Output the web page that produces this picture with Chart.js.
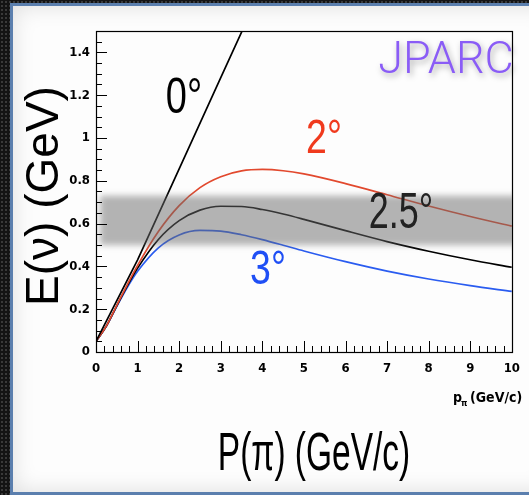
<!DOCTYPE html>
<html>
<head>
<meta charset="utf-8">
<script src="https://cdn.jsdelivr.net/npm/chart.js@4/dist/chart.umd.min.js"></script>
<style>
  html, body { margin: 0; padding: 0; }
  body {
    width: 529px; height: 495px; overflow: hidden; position: relative;
    background-color: #141414;
    background-image: radial-gradient(circle, #3a3a3a 0.9px, transparent 1.4px);
    background-size: 4px 4px;
  }
  #panel {
    position: absolute; left: 10px; top: 3px; width: 540px; height: 486px;
    border: 3px solid #5b7fae; border-right: none;
    background: #fdfdfd;
    box-shadow: inset 0 0 22px rgba(0,0,0,0.13);
  }
  #wrap { position: absolute; left: 0; top: 0; width: 529px; height: 495px; }
</style>
</head>
<body>
<div id="panel"></div>
<div id="wrap"><canvas id="chart" width="529" height="495"></canvas></div>
<script>
// Pion momentum (GeV/c) at which the neutrino energies are tabulated
const pionMomentum = [0, 0.25, 0.5, 0.75, 1, 1.5, 2, 2.5, 3, 3.5, 4, 4.5, 5, 6, 7, 8, 9, 10];
// Neutrino energy (GeV) for each off-axis angle
const energy2deg   = [0.05, 0.122, 0.218, 0.314, 0.405, 0.563, 0.684, 0.768, 0.819, 0.846, 0.853, 0.847, 0.832, 0.787, 0.735, 0.682, 0.633, 0.588];
const energy25deg  = [0.05, 0.121, 0.216, 0.308, 0.392, 0.526, 0.614, 0.663, 0.681, 0.680, 0.666, 0.645, 0.620, 0.567, 0.516, 0.471, 0.431, 0.396];
const energy3deg   = [0.05, 0.121, 0.213, 0.301, 0.377, 0.487, 0.547, 0.568, 0.565, 0.548, 0.525, 0.499, 0.472, 0.422, 0.378, 0.341, 0.310, 0.283];
// On-axis (0 degree) line
const momentum0deg = [0, 1, 2, 3, 3.6];
const energy0deg   = [0.05, 0.431, 0.856, 1.282, 1.537];
// Highlighted energy window (GeV)
const bandRange = [0.5, 0.73];
// Axis ranges and tick steps
const xRange = [0, 10];
const yRange = [0, 1.5];
const xTickStep = 1, xMinorStep = 0.2;
const yTickStep = 0.2, yMinorStep = 0.05;

const pts = (xs, ys) => xs.map((x, i) => ({ x: x, y: ys[i] }));

const curveStyle = { pointRadius: 0, borderWidth: 1.7, fill: false, cubicInterpolationMode: 'monotone' };

// Inward tick marks and the closed frame around the plot area
const frameTicks = {
  id: 'frameTicks',
  afterDraw(chart) {
    const { ctx, chartArea: a, scales: { x, y } } = chart;
    ctx.save();
    ctx.strokeStyle = '#000';
    ctx.lineWidth = 1;
    ctx.beginPath();
    for (let v = xRange[0]; v <= xRange[1] + 1e-9; v += xMinorStep) {
      const major = Math.abs(v / xTickStep - Math.round(v / xTickStep)) < 1e-6;
      const px = Math.round(x.getPixelForValue(v)) + 0.5;
      ctx.moveTo(px, a.bottom);
      ctx.lineTo(px, a.bottom - (major ? 11 : 6));
    }
    for (let v = yRange[0]; v <= yRange[1] + 1e-9; v += yMinorStep) {
      const major = Math.abs(v / yTickStep - Math.round(v / yTickStep)) < 1e-6;
      const py = Math.round(y.getPixelForValue(v)) + 0.5;
      ctx.moveTo(a.left, py);
      ctx.lineTo(a.left + (major ? 11 : 6), py);
    }
    ctx.stroke();
    ctx.lineWidth = 1.2;
    ctx.strokeRect(Math.round(a.left) + 0.5, Math.round(a.top) + 0.5,
                   Math.round(a.right - a.left), Math.round(a.bottom - a.top));
    ctx.restore();
  }
};

// Soft grey band marking the energy window, laid over the curves
const energyBand = {
  id: 'energyBand',
  afterDatasetsDraw(chart) {
    const { ctx, chartArea: a, scales: { x, y } } = chart;
    const top = y.getPixelForValue(bandRange[1]);
    const bot = y.getPixelForValue(bandRange[0]);
    ctx.save();
    ctx.beginPath();
    ctx.rect(a.left, a.top, a.right - a.left, a.bottom - a.top);
    ctx.clip();
    ctx.filter = 'blur(3px)';
    ctx.fillStyle = 'rgba(105,105,105,0.5)';
    ctx.fillRect(x.getPixelForValue(0.1), top, a.right - x.getPixelForValue(0.1) + 8, bot - top);
    ctx.restore();
  }
};

// Curve labels, axis titles and the facility name
const labels = {
  id: 'labels',
  afterDraw(chart) {
    const ctx = chart.ctx;
    const put = (text, cx, cy, font, color, sx, rot) => {
      ctx.save();
      ctx.translate(cx, cy);
      if (rot) ctx.rotate(rot);
      ctx.scale(sx, 1);
      ctx.font = font;
      ctx.fillStyle = color;
      ctx.textAlign = 'center';
      ctx.textBaseline = 'middle';
      ctx.fillText(text, 0, 0);
      ctx.restore();
    };
    const F = "'Liberation Sans', Arial, sans-serif";
    put('0°', 184, 99, '50px ' + F, '#000', 0.76);
    put('2°', 324, 140, '48px ' + F, '#f03a1e', 0.78);
    put('2.5°', 401, 214, '50px ' + F, '#222', 0.72);
    put('3°', 268, 271, '48px ' + F, '#1f4ff5', 0.78);

    ctx.save();
    ctx.shadowColor = 'rgba(0,0,0,0.35)';
    ctx.shadowBlur = 6;
    ctx.shadowOffsetX = 2;
    ctx.shadowOffsetY = 3;
    put('JPARC', 446, 62, '300 45px Roboto, ' + F, '#8a5cf6', 1);
    ctx.restore();

    put('P(π) (GeV/c)', 314, 455, '54px ' + F, '#000', 0.62);
    put('E(ν) (GeV)', 45, 196, '46px ' + F, '#000', 1.0, -Math.PI / 2);

    // small ROOT-style axis caption with subscript
    ctx.save();
    ctx.fillStyle = '#000';
    ctx.textBaseline = 'alphabetic';
    ctx.font = "bold 14px 'Liberation Sans Narrow', 'DejaVu Sans Condensed', sans-serif";
    ctx.fillText('p', 453, 402);
    ctx.font = "bold 9px 'Liberation Sans Narrow', 'DejaVu Sans Condensed', sans-serif";
    ctx.fillText('π', 461, 406);
    ctx.font = "bold 14px 'Liberation Sans Narrow', 'DejaVu Sans Condensed', sans-serif";
    ctx.fillText('(GeV/c)', 470, 402);
    ctx.restore();
  }
};

const tickFont = { family: "'Liberation Sans Narrow', 'DejaVu Sans Condensed', sans-serif", size: 13, weight: 'bold' };

new Chart(document.getElementById('chart'), {
  type: 'line',
  data: {
    datasets: [
      Object.assign({ label: '0°', data: pts(momentum0deg, energy0deg), borderColor: '#000' }, curveStyle, { cubicInterpolationMode: 'default', tension: 0 }),
      Object.assign({ label: '2°', data: pts(pionMomentum, energy2deg), borderColor: '#e2492e' }, curveStyle),
      Object.assign({ label: '2.5°', data: pts(pionMomentum, energy25deg), borderColor: '#000' }, curveStyle),
      Object.assign({ label: '3°', data: pts(pionMomentum, energy3deg), borderColor: '#2a5cf0' }, curveStyle)
    ]
  },
  options: {
    responsive: false,
    animation: false,
    layout: { padding: { left: 0, top: 31, right: 8, bottom: 0 } },
    plugins: { legend: { display: false }, tooltip: { enabled: false } },
    scales: {
      x: {
        type: 'linear', min: xRange[0], max: xRange[1],
        grid: { display: false, drawTicks: false },
        border: { display: false },
        ticks: { stepSize: xTickStep, color: '#000', font: tickFont, padding: 9, maxRotation: 0 },
        afterFit(s) { s.height = 143; }
      },
      y: {
        type: 'linear', min: yRange[0], max: yRange[1],
        grid: { display: false, drawTicks: false },
        border: { display: false },
        ticks: {
          stepSize: yTickStep, color: '#000', font: tickFont, padding: 6,
          callback: (v) => (v > yRange[1] - 0.05 ? '' : String(Math.round(v * 10) / 10))
        },
        afterFit(s) { s.width = 96; }
      }
    }
  },
  plugins: [energyBand, frameTicks, labels]
});
</script>
</body>
</html>
